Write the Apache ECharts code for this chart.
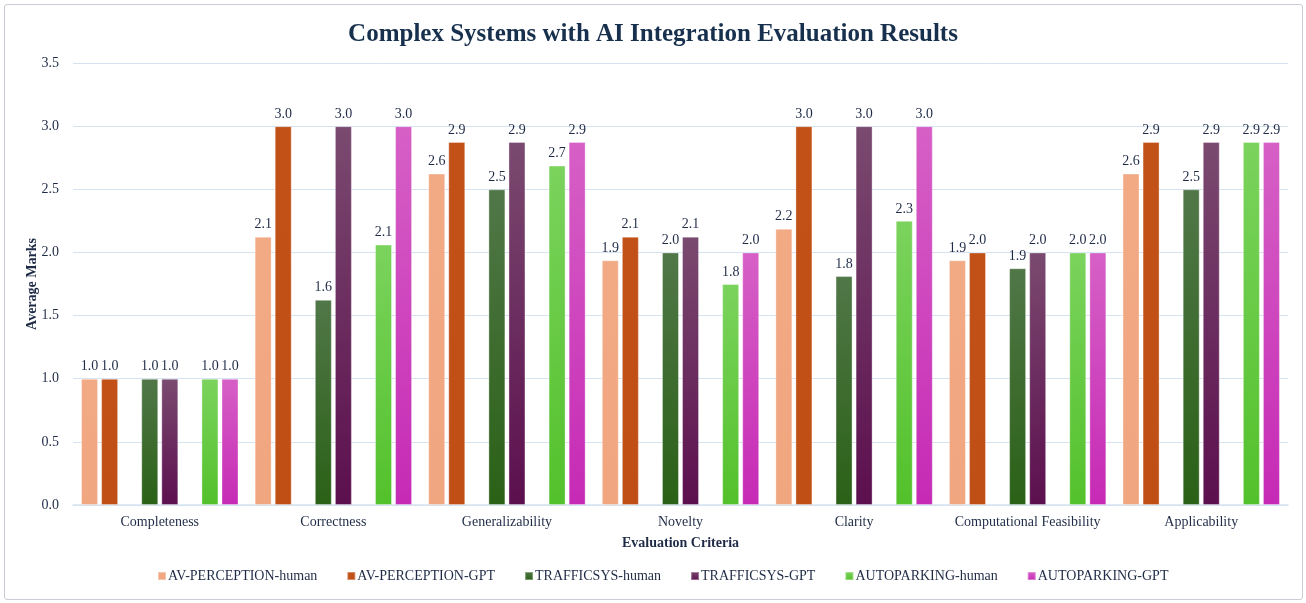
<!DOCTYPE html>
<html>
<head>
<meta charset="utf-8">
<script src="https://cdn.jsdelivr.net/npm/echarts@6/dist/echarts.min.js"></script>
<style>
html,body{margin:0;padding:0;background:#fff;}
#frame{position:absolute;left:4px;top:4px;width:1297px;height:594px;border:1px solid #c9ccd3;border-radius:3px;}
#chart{position:absolute;left:0;top:0;width:1306px;height:603px;}
</style>
</head>
<body>
<div id="frame"></div>
<div id="chart"></div>
<script>
const categories = ["Completeness","Correctness","Generalizability","Novelty","Clarity","Computational Feasibility","Applicability"];
const avHuman      = [1.0, 2.125, 2.625, 1.9375, 2.1875, 1.9375, 2.625];
const avGpt        = [1.0, 3.0,   2.875, 2.125,  3.0,    2.0,    2.875];
const trafficHuman = [1.0, 1.625, 2.5,   2.0,    1.8125, 1.875,  2.5];
const trafficGpt   = [1.0, 3.0,   2.875, 2.125,  3.0,    2.0,    2.875];
const parkingHuman = [1.0, 2.0625,2.6875,1.75,   2.25,   2.0,    2.875];
const parkingGpt   = [1.0, 3.0,   2.875, 2.0,    3.0,    2.0,    2.875];
const seriesNames = ["AV-PERCEPTION-human","AV-PERCEPTION-GPT","TRAFFICSYS-human","TRAFFICSYS-GPT","AUTOPARKING-human","AUTOPARKING-GPT"];
const yTicks = [0, 0.5, 1.0, 1.5, 2.0, 2.5, 3.0, 3.5];

const serif = '"Liberation Serif","DejaVu Serif",serif';
const txt = '#1f2b46';
const grad = (a,b) => new echarts.graphic.LinearGradient(0,0,0,1,[{offset:0,color:a},{offset:1,color:b}]);
const colors = [
  grad('#f2aa85','#f0a67f'),
  grad('#c25118','#c04f16'),
  grad('#517748','#2a6116'),
  grad('#7a4a70','#5c0f4e'),
  grad('#7bd35d','#53c12b'),
  grad('#d660c6','#c62ab5')
];
const dataSets = [avHuman, avGpt, trafficHuman, trafficGpt, parkingHuman, parkingGpt];
const empty = categories.map(() => null);

const series = [];
const order = [0,1,'gap',2,3,'gap',4,5];
order.forEach((k, i) => {
  if (k === 'gap') {
    series.push({type:'bar', name:'_gap'+i, data: empty, barWidth:17, barGap:'18%', silent:true});
  } else {
    series.push({
      type:'bar', name: seriesNames[k], data: dataSets[k], barWidth:17, barGap:'18%',
      itemStyle:{color: colors[k], borderColor:'rgba(255,255,255,0.35)', borderWidth:1},
      label:{show:true, position:'top', distance:5, fontFamily:serif, fontSize:14, color:txt,
             formatter: p => Number(p.value).toFixed(1)}
    });
  }
});

const chart = echarts.init(document.getElementById('chart'), null, {renderer:'canvas'});
chart.setOption({
  animation:false,
  backgroundColor:'transparent',
  title:{text:'Complex Systems with AI Integration Evaluation Results', left:'center', top:17,
    textStyle:{fontFamily:serif, fontSize:25, fontWeight:'bold', color:'#17304d'}},
  legend:{data: seriesNames, bottom:15, left:152, itemWidth:8, itemHeight:8, itemGap:29, icon:'rect',
    textStyle:{fontFamily:serif, fontSize:14, color:txt, padding:[0,0,0,-3]}},
  grid:{left:73, right:18, top:63, bottom:98, containLabel:false},
  xAxis:{type:'category', data:categories,
    axisLine:{lineStyle:{color:'#d5e3f1', width:1.5}}, axisTick:{show:false},
    axisLabel:{fontFamily:serif, fontSize:14, color:txt, margin:10, interval:0},
    name:'Evaluation Criteria', nameLocation:'middle', nameGap:31,
    nameTextStyle:{fontFamily:serif, fontSize:14, fontWeight:'bold', color:txt}},
  yAxis:{type:'value', min:yTicks[0], max:yTicks[yTicks.length-1], interval:0.5,
    axisLine:{show:false}, axisTick:{show:false},
    splitLine:{lineStyle:{color:'#d5e3f1', width:1}},
    axisLabel:{fontFamily:serif, fontSize:14, color:txt, margin:14, formatter: v => v.toFixed(1)},
    name:'Average Marks', nameLocation:'middle', nameGap:34, nameMoveOverlap:false,
    nameTextStyle:{fontFamily:serif, fontSize:14, fontWeight:'bold', color:txt}},
  series: series
});
</script>
</body>
</html>
